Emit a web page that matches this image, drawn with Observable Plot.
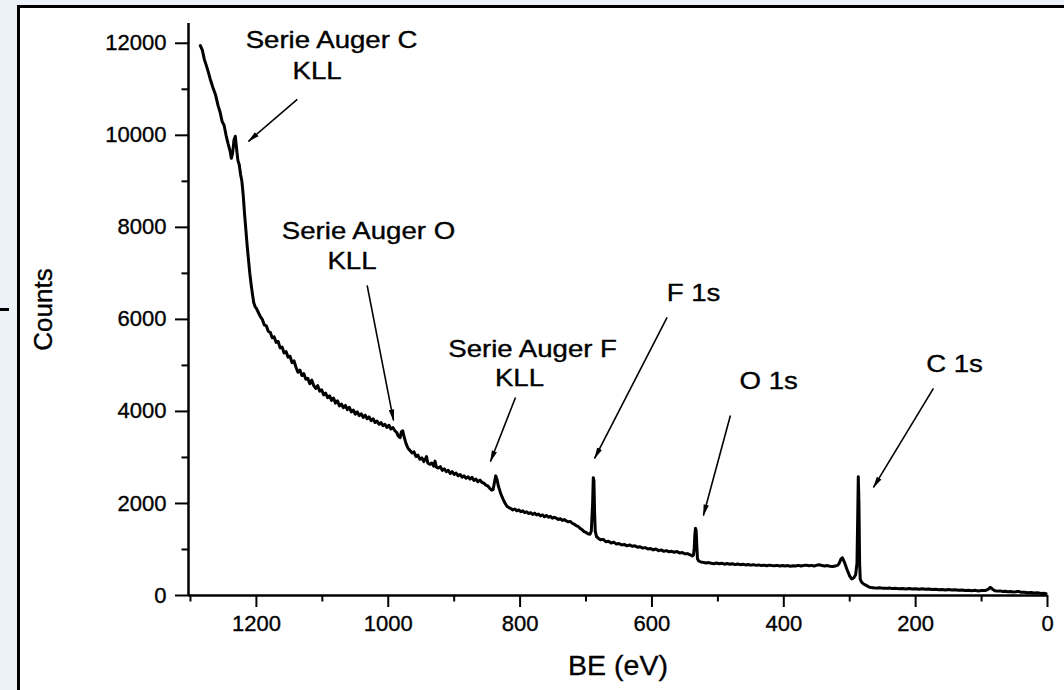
<!DOCTYPE html>
<html><head><meta charset="utf-8">
<script src="https://cdn.jsdelivr.net/npm/d3@7"></script>
<script src="https://cdn.jsdelivr.net/npm/@observablehq/plot@0.6"></script>
<style>
html,body{margin:0;padding:0;background:#edf1f8;width:1064px;height:690px;overflow:hidden;}
#panel{position:absolute;left:17px;top:5px;right:0;bottom:0;background:#fff;border-top:3px solid #000;border-left:3px solid #000;}
#dash{position:absolute;left:0;top:308px;width:9px;height:3px;background:#000;}
#chart{position:absolute;left:0;top:0;}
#chart svg text{stroke:#000;stroke-width:0.35px;}
</style></head><body>
<div id="panel"></div><div id="dash"></div><div id="chart"></div>
<script>
// [binding energy (eV), counts]
const spectrum = [
[1285,11950],[1282,11850],[1279,11650],[1276,11520],[1273,11380],[1270,11220],[1266,11040],[1262,10880],[1258,10640],[1255,10500],[1252,10300],[1249,10220],[1246,10000],[1243,9820],[1240,9660],[1238,9500],[1236,9620],[1234,9900],[1232,9980],[1230,9700],[1228,9450],[1226,9360],[1224,9150],[1222,9000],[1220,8700],[1218,8300],[1216,7950],[1214,7600],[1212,7300],[1210,7000],[1208,6760],[1206,6550],[1204,6360],[1202,6280],
[1200,6240],[1197,6150],[1194,6060],[1191,6000],[1188,5880],[1185,5860],[1182,5740],[1179,5720],[1176,5600],[1173,5620],[1170,5500],[1167,5520],[1164,5380],[1161,5400],[1158,5270],[1155,5300],[1152,5180],[1149,5200],[1146,5060],[1143,5100],[1140,4960],[1137,4850],[1134,4900],[1131,4780],[1128,4820],[1125,4700],[1122,4720],[1119,4600],[1116,4680],[1113,4560],[1110,4500],[1107,4560],[1104,4440],[1101,4470],[1098,4360],[1095,4400],[1092,4300],[1089,4340],[1086,4240],[1083,4290],[1080,4180],[1077,4230],[1074,4120],[1071,4160],[1068,4080],[1065,4130],[1062,4040],[1059,4090],[1056,3990],[1053,4030],[1050,3940],[1047,3990],[1044,3910],[1041,3950],[1038,3870],[1035,3920],[1032,3840],[1029,3880],[1026,3800],[1023,3840],[1020,3760],[1017,3790],[1014,3720],[1011,3760],[1008,3690],[1005,3720],[1002,3650],
[999,3700],[996,3620],[993,3650],[990,3580],[987,3540],[985,3470],[982,3430],[980,3560],[978,3580],[976,3450],[973,3300],[970,3200],[967,3150],[964,3100],[961,3120],[958,3020],[955,3050],[952,2960],[949,2990],[946,2910],[944,2960],[942,3020],[940,2880],[937,2850],[934,2880],[931,2810],[929,2920],[927,2790],[924,2770],[921,2800],[918,2720],[915,2750],[912,2690],[909,2720],[906,2650],[903,2690],[900,2630],[897,2660],[894,2600],[891,2630],[888,2570],[885,2600],[882,2550],[879,2580],[876,2530],[873,2570],[870,2500],[867,2530],[864,2470],[861,2510],[858,2460],[855,2440],[852,2400],[849,2380],[846,2330],[843,2290],[841,2300],[839,2450],[837,2600],[835,2520],[833,2380],[831,2290],[829,2200],[826,2100],[823,2010],[820,1940],[817,1910],[814,1890],[811,1860],[808,1880],[805,1840],[802,1860],
[799,1820],[796,1840],[793,1800],[790,1820],[787,1780],[784,1800],[781,1760],[778,1790],[775,1750],[772,1770],[769,1730],[766,1750],[763,1710],[760,1740],[757,1700],[754,1720],[751,1680],[748,1700],[745,1680],[742,1650],[739,1670],[736,1630],[733,1650],[730,1620],[727,1600],[724,1610],[721,1570],[718,1550],[715,1520],[712,1500],[709,1460],[706,1430],[703,1390],[700,1370],[697,1340],[694,1330],[692,1400],[690,2000],[689,2560],[688,2500],[687,1800],[686,1400],[684,1280],[681,1240],[678,1210],[674,1220],[670,1170],[666,1180],[662,1140],[658,1160],[654,1120],[650,1130],[646,1100],[642,1110],[638,1080],[634,1100],[630,1070],[626,1080],[622,1050],[618,1060],[614,1030],[610,1040],[606,1010],[602,1020],
[598,990],[594,1010],[590,975],[586,990],[582,960],[578,975],[574,950],[570,960],[566,940],[562,955],[558,925],[554,935],[550,905],[546,910],[542,885],[539,860],[537,880],[536,1000],[535,1300],[534,1460],[533,1420],[532,1100],[531,800],[529,750],[526,730],[522,720],[518,705],[514,715],[510,700],[506,690],[502,705],[498,690],[494,700],[490,680],[486,695],[482,680],[478,690],[474,670],[470,685],[466,670],[462,680],[458,665],[454,675],[450,660],[446,670],[442,655],[438,665],[434,650],[430,660],[426,645],[422,660],[418,650],[414,645],[410,655],[406,640],[402,650],[398,640],[394,650],[390,635],[386,645],[382,640],[378,655],[374,640],[370,650],[366,660],[362,645],[358,655],[354,640],[350,660],[346,670],[342,650],[338,640],[334,650],[330,635],[326,630],[322,640],[318,660],[316,700],[313,800],[311,820],[308,720],[304,560],[300,420],[297,360],[294,380],[291,450],[289,700],[288,1600],[287,2580],[286,2000],[285,700],[284,350],[282,290],[279,250],[275,220],[270,180],[265,170],[260,160],[255,170],[250,160],[245,155],[240,165],[235,150],[230,155],[225,145],[220,150],[215,140],[210,150],[205,140],[200,145],[195,135],[190,145],[185,135],[180,140],[175,130],[170,135],[165,125],[160,130],[155,120],[150,130],[145,120],[140,125],[135,115],[130,120],[125,110],[120,115],[115,105],[110,112],[105,100],[100,108],[95,110],[92,120],[90,135],[87,175],[85,160],[83,130],[80,105],[76,95],[72,100],[68,88],[64,92],[60,82],[56,88],[52,76],[48,82],[45,90],[42,80],[40,70],[35,72],[30,62],[25,65],[20,55],[15,58],[10,46],[6,48],[2,40]
];

const xTicks = [0,200,400,600,800,1000,1200];
const xMinor = [100,300,500,700,900,1100,1300];
const yTicks = [0,2000,4000,6000,8000,10000,12000];
const yMinor = [1000,3000,5000,7000,9000,11000];

// Annotations (data coordinates)
const annText = ["Serie Auger C","KLL","Serie Auger O","KLL","Serie Auger F","KLL","F 1s","O 1s","C 1s"];
const annBE = [1086,1108,1030,1055,781,801,537,423,141];
const annCounts = [12065,11391,7913,7261,5348,4717,6565,4652,5022];

const arrowFromBE = [1138,1032,807,577,481,173];
const arrowFromCounts = [10783,6739,4304,6043,3913,4500];
const arrowToBE = [1212,992,845,687,522,264];
const arrowToCounts = [9870,3804,2913,2978,1739,2348];

const data = spectrum.map(([b, c]) => ({be: b, c}));
const ann = annText.map((t, i) => ({t, x: annBE[i], y: annCounts[i]}));
const arr = arrowFromBE.map((x1, i) => ({x1, y1: arrowFromCounts[i], x2: arrowToBE[i], y2: arrowToCounts[i]}));

const font = "'Liberation Sans', Arial, Helvetica, sans-serif";
const fmt = d => String(d);
const svg = Plot.plot({
  width: 1064, height: 690,
  marginLeft: 188, marginRight: 17, marginTop: 23, marginBottom: 95,
  style: {background: "transparent", fontFamily: font, fontSize: "22px", color: "#000", overflow: "visible"},
  x: {domain: [1303, 0]},
  y: {domain: [0, 12430]},
  marks: [
    Plot.axisX(xTicks, {tickSize: 12, tickPadding: 8, strokeWidth: 2, fontSize: 22, tickFormat: fmt, label: null}),
    Plot.axisX(xMinor, {tickSize: 6.5, strokeWidth: 2, text: null, label: null}),
    Plot.axisY(yTicks, {tickSize: 13, tickPadding: 9, strokeWidth: 2, fontSize: 22, tickFormat: fmt, label: null}),
    Plot.axisY(yMinor, {tickSize: 6.5, strokeWidth: 2, text: null, label: null}),
    Plot.ruleY([0], {strokeWidth: 2.5, stroke: "#000"}),
    Plot.ruleX([1303], {strokeWidth: 2.5, stroke: "#000"}),
    Plot.line(data, {x: "be", y: "c", stroke: "#000", strokeWidth: 3, strokeLinejoin: "round"}),
    Plot.link(arr, {x1: "x1", y1: "y1", x2: "x2", y2: "y2", stroke: "#000", strokeWidth: 1.6}),
    Plot.text(ann, {x: "x", y: "y", text: "t", fontSize: 23, fill: "#000"}),
    Plot.text(["Counts"], {frameAnchor: "left", textAnchor: "middle", lineAnchor: "middle", dx: -145, rotate: -90, fontSize: 26, fill: "#000"}),
    Plot.text(["BE (eV)"], {frameAnchor: "bottom", textAnchor: "middle", lineAnchor: "middle", dy: 70, fontSize: 28.5, fill: "#000"})
  ]
});
document.getElementById("chart").appendChild(svg);

// filled arrowheads on the annotation leaders
const root = d3.select(svg);
const defs = root.insert("defs", ":first-child");
defs.append("marker")
  .attr("id", "ahead").attr("markerUnits", "userSpaceOnUse")
  .attr("viewBox", "0 0 12 6").attr("refX", 11).attr("refY", 3)
  .attr("markerWidth", 12).attr("markerHeight", 6).attr("orient", "auto")
  .append("path").attr("d", "M0,0.3 L12,3 L0,5.7 Z").attr("fill", "#000");
root.selectAll("g[aria-label='link'] path").attr("marker-end", "url(#ahead)");

// horizontally widen annotation labels as in the original figure
const annSet = new Set(annText);
root.selectAll("text").each(function() {
  if (!annSet.has(this.textContent)) return;
  const t = this.getAttribute("transform");
  if (t) {
    this.setAttribute("transform", t + " scale(1.2,1)");
  } else {
    const x = +this.getAttribute("x") || 0, y = +this.getAttribute("y") || 0;
    this.setAttribute("x", 0); this.setAttribute("y", 0);
    this.setAttribute("transform", `translate(${x},${y}) scale(1.2,1)`);
  }
});
</script>
</body></html>
